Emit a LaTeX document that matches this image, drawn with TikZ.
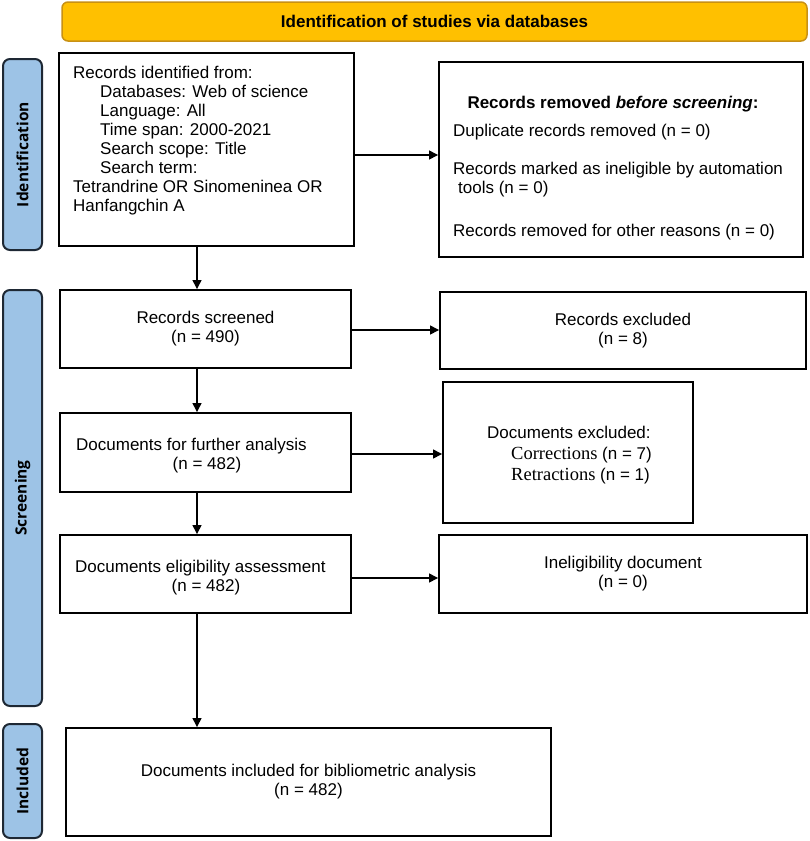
\documentclass[tikz,border=0pt]{standalone}
\usepackage{fontspec}
\setmainfont{Liberation Sans}
\newfontfamily\timesfont{Liberation Serif}
\newfontfamily\labelfont{Open Sans}
\usetikzlibrary{arrows.meta}
\definecolor{bannerfill}{RGB}{255,192,0}
\definecolor{bannerdraw}{RGB}{200,145,20}
\definecolor{barfill}{RGB}{157,195,230}
\definecolor{bardraw}{RGB}{30,40,52}
\begin{document}
\begin{tikzpicture}[x=1pt,y=-1pt,
  box/.style={draw=black, line width=1.9pt, inner sep=0pt, align=center, font=\fontsize{17}{19}\selectfont},
  txt/.style={inner sep=0pt, font=\fontsize{17}{19}\selectfont},
  bar/.style={draw=bardraw, fill=barfill, line width=2pt, rounded corners=7pt, inner sep=0pt, rotate=90, font=\labelfont\bfseries\fontsize{15.5}{18}\selectfont},
  arr/.style={line width=1.3pt, -{Triangle[length=9pt,width=9pt]}}
]
\useasboundingbox (0,0) rectangle (809,841);

% banner
\node[draw=bannerdraw, fill=bannerfill, line width=1.5pt, rounded corners=6pt,
      minimum width=745pt, minimum height=39pt, inner sep=0pt,
      font=\bfseries\fontsize{17}{19}\selectfont] (banner) at (434.5,21.5)
      {Identification of studies via databases};

% side bars
\node[bar, minimum width=191pt, minimum height=39pt] (s1) at (22.5,154.5) {Identification};
\node[bar, minimum width=416pt, minimum height=39pt] (s2) at (22.5,498) {Screening};
\node[bar, minimum width=114pt, minimum height=39pt] (s3) at (22.5,781) {Included};

% left column
\node[box, minimum width=295pt, minimum height=193pt] (b1) at (206.5,149.5) {};
\node[txt, anchor=north west, align=left] (b1t) at (73,66)
  {Records identified from:\\
   \hspace*{27pt}Databases: Web of science\\
   \hspace*{27pt}Language: All\\
   \hspace*{27pt}Time span: 2000-2021\\
   \hspace*{27pt}Search scope: Title\\
   \hspace*{27pt}Search term:\\
   Tetrandrine OR Sinomeninea OR\\
   Hanfangchin A};

\node[box, minimum width=291pt, minimum height=78pt] (b2) at (205.5,329) {Records screened\\(n = 490)};

\node[box, minimum width=291pt, minimum height=79pt] (b3) at (205.5,452.5) {};
\node[txt, anchor=base west] (b3a) at (76,450) {Documents for further analysis};
\node[txt, anchor=base] (b3b) at (207,469) {(n = 482)};

\node[box, minimum width=291pt, minimum height=78pt] (b4) at (205.5,574) {};
\node[txt, anchor=base west] (b4a) at (75,572) {Documents eligibility assessment};
\node[txt, anchor=base] (b4b) at (206,591) {(n = 482)};

\node[box, minimum width=485pt, minimum height=108pt] (b5) at (308.5,782)
  {Documents included for bibliometric analysis\\(n = 482)};

% right column
\node[box, minimum width=364pt, minimum height=195pt] (r1) at (621,159.5) {};
\node[txt, anchor=base, font=\bfseries\fontsize{17}{19}\selectfont] (r1h) at (613,108)
  {Records removed \textit{before screening}:};
\node[txt, anchor=base west] (r1a) at (453,136) {Duplicate records removed (n = 0)};
\node[txt, anchor=north west, align=left] (r1b) at (453,162)
  {Records marked as ineligible by automation\\\hspace*{5pt}tools (n = 0)};
\node[txt, anchor=base west] (r1c) at (453,236) {Records removed for other reasons (n = 0)};

\node[box, minimum width=366pt, minimum height=77pt] (r2) at (623,330.5) {Records excluded\\(n = 8)};

\node[box, minimum width=250pt, minimum height=141pt] (r3) at (568,452.5) {};
\node[txt, anchor=base west] (r3a) at (487,438) {Documents excluded:};
\node[txt, anchor=base west] (r3b) at (511,459) {{\timesfont\fontsize{18.5}{21}\selectfont Corrections} (n = 7)};
\node[txt, anchor=base west] (r3c) at (511,480) {{\timesfont\fontsize{18.5}{21}\selectfont Retractions} (n = 1)};

\node[box, minimum width=368pt, minimum height=78pt] (r4) at (623,574) {Ineligibility document\\(n = 0)};

% connectors
\coordinate (ax) at (197,0);
\draw[arr] (b1.south -| ax) -- (b2.north -| ax);
\draw[arr] (b2.south -| ax) -- (b3.north -| ax);
\draw[arr] (b3.south -| ax) -- (b4.north -| ax);
\draw[arr] (b4.south -| ax) -- (b5.north -| ax);

\draw[arr] (b1.east |- 0,155) -- (r1.west |- 0,155);
\draw[arr] (b2.east |- 0,330) -- (r2.west |- 0,330);
\draw[arr] (b3.east |- 0,454) -- (r3.west |- 0,454);
\draw[arr] (b4.east |- 0,578) -- (r4.west |- 0,578);
\end{tikzpicture}
\end{document}
